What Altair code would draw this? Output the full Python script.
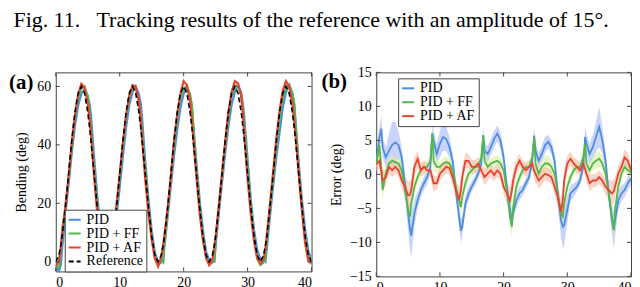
import altair as alt
import pandas as pd

# ---------------- data ----------------
time = [0, 0.5, 0.8, 1, 1.5, 2, 2.5, 3, 3.5, 4, 4.5, 5, 5.3, 5.5, 6, 6.5, 7, 7.5,
        8, 8.5, 8.8, 9, 9.5, 10, 10.5, 11, 11.5, 12, 12.5, 13, 13.3, 13.5, 14, 14.5, 15, 15.5,
        16, 16.5, 16.8, 17, 17.5, 18, 18.5, 19, 19.5, 20, 20.5, 21, 21.3, 21.5, 22, 22.5, 23, 23.5,
        24, 24.5, 24.8, 25, 25.5, 26, 26.5, 27, 27.5, 28, 28.5, 29, 29.3, 29.5, 30, 30.5, 31, 31.5,
        32, 32.5, 32.8, 33, 33.5, 34, 34.5, 35, 35.5, 36, 36.5, 37, 37.3, 37.5, 38, 38.5, 39, 39.5,
        40]

reference = [0, 2.28, 5.73, 8.79, 18.52, 30, 41.48, 51.21, 57.72, 60, 57.72, 51.21, 45.68, 41.48, 30, 18.52, 8.79, 2.28,
             0, 2.28, 5.73, 8.79, 18.52, 30, 41.48, 51.21, 57.72, 60, 57.72, 51.21, 45.68, 41.48, 30, 18.52, 8.79, 2.28,
             0, 2.28, 5.73, 8.79, 18.52, 30, 41.48, 51.21, 57.72, 60, 57.72, 51.21, 45.68, 41.48, 30, 18.52, 8.79, 2.28,
             0, 2.28, 5.73, 8.79, 18.52, 30, 41.48, 51.21, 57.72, 60, 57.72, 51.21, 45.68, 41.48, 30, 18.52, 8.79, 2.28,
             0, 2.28, 5.73, 8.79, 18.52, 30, 41.48, 51.21, 57.72, 60, 57.72, 51.21, 45.68, 41.48, 30, 18.52, 8.79, 2.28,
             0]

err_pid = [1.5, 5.5, 6.7, 4.0, 2.5, 3.5, 4.3, 4.7, 4.3, 2.5, -1.3, -5.7, -8.0, -9.0, -5.7, -3.8, -2.3, -1.3,
           -0.4, 1.1, 6.0, 5.0, 3.0, 4.5, 5.5, 5.2, 4.0, 2.0, -2.3, -6.2, -8.3, -7.7, -4.3, -2.8, -1.8, -0.9,
           0.1, 1.6, 5.8, 3.5, 3.0, 4.0, 5.2, 6.0, 5.0, 2.5, -1.8, -5.2, -6.7, -5.7, -3.8, -2.8, -2.3, -1.3,
           -0.4, 2.0, 5.7, 3.5, 2.0, 3.0, 4.3, 4.8, 4.0, 2.0, -2.8, -6.7, -7.7, -7.5, -5.2, -2.8, -2.3, -1.8,
           -0.9, 1.1, 5.5, 4.5, 3.0, 4.0, 5.5, 7.0, 5.0, 2.0, -2.8, -6.7, -8.2, -6.7, -3.8, -2.8, -2.3, -1.3,
           -0.6]

err_ff = [1.5, 4.3, 1.0, -2.3, 0.1, 1.6, 2.0, 1.8, 1.6, 0.6, -2.3, -5.2, -6.2, -4.3, -1.8, -0.4, 0.6, 1.1,
          1.1, 2.0, 6.0, 2.0, 1.1, 1.1, 1.6, 1.8, 1.6, 0.6, -1.8, -3.8, -4.8, -3.3, -1.3, 0.1, 0.6, 1.1,
          1.1, 2.5, 5.7, 2.0, 1.1, 1.6, 1.8, 2.0, 1.6, 0.6, -2.3, -6.2, -7.7, -4.8, -1.8, -0.4, 0.6, 1.1,
          1.1, 2.5, 5.5, 1.6, 0.1, 1.1, 1.6, 1.6, 1.1, 0.1, -2.8, -5.7, -6.2, -4.3, -1.8, -0.4, 0.6, 1.1,
          1.1, 2.5, 4.5, 1.6, 0.6, 1.6, 2.0, 2.3, 1.6, 0.1, -2.8, -6.2, -8.2, -5.2, -1.8, 0.1, 1.1, 0.6,
          0.3]

err_af = [1.5, 2.0, 0.5, -0.9, -0.4, 1.1, 0.6, 1.1, 0.6, -0.9, -1.8, -3.1, -3.0, -2.3, 1.1, 2.3, 0.6, 1.1,
          0.6, 0.6, -0.5, -1.3, -1.3, 0.1, 0.6, 1.1, 0.9, -0.4, -2.3, -3.8, -2.3, -0.4, 2.0, 2.0, 1.1, 1.1,
          1.6, 0.6, 0.0, -0.4, 0.1, 0.6, -0.1, 0.6, 0.1, -1.8, -2.8, -3.8, -2.3, -0.9, 1.1, 2.0, 1.1, 0.6,
          1.1, 1.6, 0.5, 0.1, -0.9, -0.4, 0.1, -0.1, -0.4, -1.8, -3.3, -5.5, -3.8, -0.9, 1.6, 2.3, 1.6, 1.1,
          0.6, 1.6, 0.8, 0.1, -1.3, -0.9, -0.9, -0.4, -0.9, -1.8, -2.3, -2.8, -2.5, -1.8, 0.1, 1.1, 2.5, 2.0,
          0.6]

sd_pid = [1.0, 1.5, 1.8, 1.5, 1.5, 2.5, 3.5, 3.0, 2.0, 1.5, 1.5, 2.5, 3.0, 3.3, 2.0, 1.2, 1.0, 1.0,
          1.0, 1.0, 1.5, 1.5, 1.5, 2.0, 2.0, 1.8, 1.5, 1.2, 1.2, 1.5, 1.8, 1.5, 1.0, 1.0, 0.8, 0.8,
          0.8, 1.0, 1.2, 1.2, 1.2, 1.2, 1.2, 1.2, 1.2, 1.2, 1.2, 1.5, 1.5, 1.2, 1.0, 1.0, 0.8, 0.8,
          0.8, 1.0, 1.2, 1.2, 1.2, 1.2, 1.2, 1.0, 1.0, 1.2, 1.5, 2.5, 3.2, 3.0, 2.0, 1.2, 1.0, 0.8,
          0.8, 1.0, 1.5, 1.5, 1.5, 1.8, 2.2, 3.0, 2.0, 1.5, 1.5, 2.0, 2.8, 2.5, 1.5, 1.2, 1.0, 1.0,
          1.0]

sd_ff = [0.8, 1.0, 1.5, 1.5, 1.0, 0.8, 0.8, 0.8, 0.8, 0.8, 1.0, 1.5, 1.5, 1.5, 1.0, 0.8, 0.8, 0.8,
         0.8, 1.0, 1.5, 1.5, 1.0, 0.8, 0.8, 0.8, 0.8, 0.8, 1.0, 1.2, 1.2, 1.2, 1.0, 0.8, 0.8, 0.8,
         0.8, 1.0, 1.2, 1.2, 1.0, 0.8, 0.8, 0.8, 0.8, 0.8, 1.0, 1.5, 1.8, 1.5, 1.0, 0.8, 0.8, 0.8,
         0.8, 1.0, 1.2, 1.2, 1.0, 1.0, 1.2, 1.2, 1.0, 0.8, 1.0, 1.2, 1.2, 1.2, 1.0, 0.8, 0.8, 0.8,
         0.8, 1.0, 1.2, 1.2, 1.0, 1.0, 1.2, 1.2, 1.0, 0.8, 1.0, 1.5, 1.8, 1.5, 1.0, 0.8, 0.8, 0.8,
         0.8]

sd_af = [1.0, 1.2, 1.5, 1.5, 1.2, 1.0, 1.0, 1.0, 1.0, 1.2, 1.5, 2.0, 2.0, 1.8, 1.5, 1.2, 1.0, 1.0,
         1.0, 1.0, 1.2, 1.2, 1.0, 1.0, 1.0, 1.0, 1.0, 1.2, 1.5, 1.8, 1.8, 1.5, 1.2, 1.0, 1.0, 1.0,
         1.0, 1.0, 1.2, 1.2, 1.0, 1.0, 1.0, 1.0, 1.0, 1.2, 1.5, 1.8, 1.8, 1.5, 1.2, 1.0, 1.0, 1.0,
         1.0, 1.0, 1.2, 1.2, 1.2, 1.2, 1.0, 1.0, 1.0, 1.2, 1.5, 2.0, 2.0, 1.8, 1.2, 1.0, 1.0, 1.0,
         1.0, 1.0, 1.2, 1.2, 1.2, 1.0, 1.0, 1.0, 1.0, 1.2, 1.5, 1.8, 1.8, 1.5, 1.2, 1.0, 1.2, 1.2,
         1.0]

series_names = ["PID", "PID + FF", "PID + AF"]
reference_name = "Reference"
line_colors = ["#4a8fdc", "#52b84c", "#e8432c"]
band_colors = ["#a9b5f6", "#d9f09e", "#f7b9a5"]

x_ticks = [0, 10, 20, 30, 40]
y_ticks_a = [0, 20, 40, 60]
y_ticks_b = [-15, -10, -5, 0, 5, 10, 15]
panel_labels = ["(a)", "(b)"]
fig_title = "Fig. 11.\u00a0\u00a0\u00a0Tracking results of the reference with an amplitude of 15°."

# ---------------- tables ----------------
errors = [err_pid, err_ff, err_af]
spreads = [sd_pid, sd_ff, sd_af]

tracks = []
for name, err in zip(series_names, errors):
    tracks.append(pd.DataFrame({"t": time, "value": [r - e for r, e in zip(reference, err)], "series": name}))
ref_df = pd.DataFrame({"t": time, "value": reference, "series": reference_name})

err_tables = []
for name, err, sd in zip(series_names, errors, spreads):
    err_tables.append(pd.DataFrame({"t": time, "err": err,
                                    "lo": [e - s for e, s in zip(err, sd)],
                                    "hi": [e + s for e, s in zip(err, sd)],
                                    "series": name}))

FONT = "Liberation Serif"
FRAME = "#444444"
W1, H1 = 257, 200
W2, H2 = 256, 205
TICK = 4

xscale = alt.Scale(domain=[0, 40], nice=False)
yscale_a = alt.Scale(domain=[-3.3, 64.8], nice=False)
yscale_b = alt.Scale(domain=[-15, 15], nice=False)

xaxis = alt.Axis(values=x_ticks, ticks=False, domain=False, grid=False, labelPadding=4, title=None)
yaxis_a = alt.Axis(values=y_ticks_a, ticks=False, domain=False, grid=False, labelPadding=5,
                   title="Bending (deg)", titlePadding=8)
yaxis_b = alt.Axis(values=y_ticks_b, ticks=False, domain=False, grid=False, labelPadding=5,
                   title="Error (deg)", titlePadding=6)

names_a = series_names + [reference_name]
stroke_a = alt.Scale(domain=names_a, range=line_colors + ["#000000"])
dash_a = alt.Scale(domain=names_a, range=[[1, 0], [1, 0], [1, 0], [5, 3]])


def make_legend(lx, ly):
    return alt.Legend(orient="none", legendX=lx, legendY=ly, title=None,
                      strokeColor=FRAME, fillColor="white", padding=3, rowPadding=-2,
                      symbolType="stroke", symbolSize=144, symbolStrokeWidth=2,
                      labelFont=FONT, labelFontSize=14, labelColor="black", labelOffset=5)


legend_a = make_legend(9, 138)
legend_b = make_legend(22, 6)
stroke_b = alt.Scale(domain=series_names, range=line_colors)


def tick_layers(yscale, yaxis, yticks, W, H):
    xt = pd.DataFrame({"t": x_ticks})
    yt = pd.DataFrame({"value": yticks})
    X = alt.X("t:Q", scale=xscale, axis=xaxis)
    Y = alt.Y("value:Q", scale=yscale, axis=yaxis)
    base_x = alt.Chart(xt).mark_rule(color=FRAME, strokeWidth=1)
    base_y = alt.Chart(yt).mark_rule(color=FRAME, strokeWidth=1)
    return [
        base_x.encode(x=X, y=alt.value(H), y2=alt.value(H - TICK)),
        base_x.encode(x=X, y=alt.value(0), y2=alt.value(TICK)),
        base_y.encode(y=Y, x=alt.value(0), x2=alt.value(TICK)),
        base_y.encode(y=Y, x=alt.value(W), x2=alt.value(W - TICK)),
    ]


# ---------------- panel (a) ----------------
layers_a = []
for df in tracks + [ref_df]:
    is_ref = df["series"].iloc[0] == reference_name
    layers_a.append(
        alt.Chart(df).mark_line(strokeWidth=1.6 if is_ref else 2.2, clip=True).encode(
            x=alt.X("t:Q", scale=xscale, axis=xaxis),
            y=alt.Y("value:Q", scale=yscale_a, axis=yaxis_a),
            stroke=alt.Stroke("series:N", scale=stroke_a, legend=legend_a),
            strokeDash=alt.StrokeDash("series:N", scale=dash_a, legend=legend_a),
        )
    )
label_a = alt.Chart(pd.DataFrame({"label": [panel_labels[0]]})).mark_text(
    font=FONT, fontSize=21, fontWeight="bold", align="left", baseline="alphabetic", color="black"
).encode(text="label:N", x=alt.value(-47), y=alt.value(17))

panel_a = alt.layer(*(layers_a + tick_layers(yscale_a, yaxis_a, y_ticks_a, W1, H1) + [label_a])).properties(
    width=W1, height=H1)

# ---------------- panel (b) ----------------
bands = []
lines_b = []
for df, bcol in zip(err_tables, band_colors):
    bands.append(
        alt.Chart(df).mark_area(opacity=0.6, clip=True, color=bcol).encode(
            x=alt.X("t:Q", scale=xscale, axis=xaxis),
            y=alt.Y("lo:Q", scale=yscale_b, axis=yaxis_b),
            y2="hi:Q",
        )
    )
    lines_b.append(
        alt.Chart(df).mark_line(strokeWidth=1.8, clip=True).encode(
            x=alt.X("t:Q", scale=xscale, axis=xaxis),
            y=alt.Y("err:Q", scale=yscale_b, axis=yaxis_b),
            stroke=alt.Stroke("series:N", scale=stroke_b, legend=legend_b),
        )
    )
label_b = alt.Chart(pd.DataFrame({"label": [panel_labels[1]]})).mark_text(
    font=FONT, fontSize=21, fontWeight="bold", align="left", baseline="alphabetic", color="black"
).encode(text="label:N", x=alt.value(-55), y=alt.value(16))

panel_b = alt.layer(*(bands + lines_b + tick_layers(yscale_b, yaxis_b, y_ticks_b, W2, H2) + [label_b])).properties(
    width=W2, height=H2)

chart = (
    alt.hconcat(panel_a, panel_b, spacing=8)
    .resolve_scale(x="independent", y="independent", stroke="independent",
                   strokeDash="independent")
    .resolve_legend(stroke="independent", strokeDash="independent")
    .properties(
        padding=0,
        title=alt.TitleParams(fig_title, font=FONT, fontSize=22, fontWeight="normal",
                              color="black", anchor="start", dx=5, offset=33),
    )
    .configure_view(stroke=FRAME, strokeWidth=1)
    .configure_axis(labelFont=FONT, labelFontSize=14, labelColor="black",
                    titleFont=FONT, titleFontSize=14, titleColor="black", titleFontWeight="normal")
)

chart.save("out.html", embed_options={"renderer": "svg", "actions": False})
